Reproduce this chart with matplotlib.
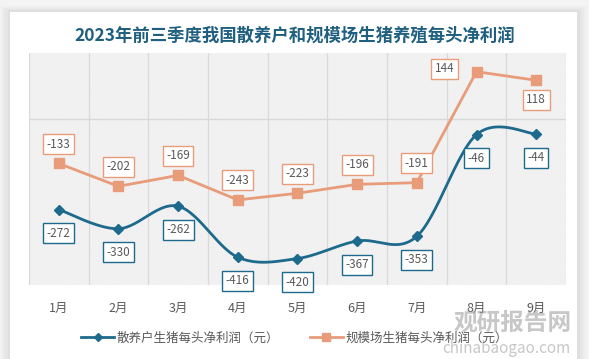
import numpy as np
import matplotlib.pyplot as plt
from matplotlib.patches import Rectangle

plt.rcParams['font.family'] = ['Noto Sans CJK SC', 'DejaVu Sans']
plt.rcParams['hatch.linewidth'] = 0.4

months = ['1月', '2月', '3月', '4月', '5月', '6月', '7月', '8月', '9月']
retail = [-272, -330, -262, -416, -420, -367, -353, -46, -44]
scale = [-133, -202, -169, -243, -223, -196, -191, 144, 118]
retail_name = '散养户生猪每头净利润（元）'
scale_name = '规模场生猪每头净利润（元）'

blue = '#1d6a8c'
orange = '#e89c7a'
grey_txt = '#595959'


def smooth(y, n=30):
    # Bezier smoothing like spreadsheet "smoothed line"
    x = np.arange(len(y), dtype=float)
    y = np.asarray(y, dtype=float)
    xs, ys = [], []
    for i in range(len(y) - 1):
        p0 = max(i - 1, 0)
        p3 = min(i + 2, len(y) - 1)
        c1x = x[i] + (x[i + 1] - x[p0]) / 6
        c1y = y[i] + (y[i + 1] - y[p0]) / 6
        c2x = x[i + 1] - (x[p3] - x[i]) / 6
        c2y = y[i + 1] - (y[p3] - y[i]) / 6
        t = np.linspace(0, 1, n)
        bx = (1-t)**3*x[i] + 3*(1-t)**2*t*c1x + 3*(1-t)*t**2*c2x + t**3*x[i+1]
        by = (1-t)**3*y[i] + 3*(1-t)**2*t*c1y + 3*(1-t)*t**2*c2y + t**3*y[i+1]
        xs.extend(bx)
        ys.extend(by)
    return np.array(xs), np.array(ys)


fig = plt.figure(figsize=(5.89, 3.59), dpi=100, facecolor='#f4f4f4')

# card with soft shadow
for k, a in enumerate([0.05, 0.05, 0.06, 0.08]):
    d = (4 - k) * 0.004
    fig.patches.append(Rectangle((0.017 - d, 0.0), 0.963 + 2 * d, 0.967 + d,
                                 transform=fig.transFigure, facecolor='#999999',
                                 alpha=a, edgecolor='none', zorder=-2))
fig.patches.append(Rectangle((0.017, 0.0), 0.963, 0.967, transform=fig.transFigure,
                             facecolor='white', edgecolor='none', zorder=-1))

ax = fig.add_axes([0.049, 0.206, 0.912, 0.646])
ax.set_zorder(2)
ax.set_facecolor('white')
ax.add_patch(Rectangle((0, 0), 1, 1, transform=ax.transAxes, facecolor='white',
                       edgecolor='#e2e2e2', hatch='\\' * 20, linewidth=0, zorder=0))

x = np.arange(len(months))
ax.set_xlim(-0.5, len(months) - 0.5)
ax.set_ylim(-500, 200)

for b in np.arange(-0.5, len(months), 1.0):
    ax.axvline(b, color='#d9d9d9', lw=0.9, zorder=1)
ax.axhline(0, color='#d9d9d9', lw=1.0, zorder=1)

sx, sy = smooth(retail)
ax.plot(sx, sy, color=blue, lw=2, zorder=3)
ax.plot(x, retail, 'D', color=blue, ms=5, zorder=4)
ax.plot(x, scale, color=orange, lw=2, marker='s', ms=7, zorder=3)

for i, v in enumerate(retail):
    ax.annotate(str(v), (i, v), xytext=(0, -17), textcoords='offset points',
                ha='center', va='center', fontsize=8.5, color=grey_txt, zorder=5,
                bbox=dict(boxstyle='square,pad=0.3', fc='white', ec=blue, lw=1))
for i, v in enumerate(scale):
    if i == 7:
        off = (-23, 2)
    elif i == 8:
        off = (0, -14)
    else:
        off = (0, 14)
    ax.annotate(str(v), (i, v), xytext=off, textcoords='offset points',
                ha='center', va='center', fontsize=8.5, color=grey_txt, zorder=5,
                bbox=dict(boxstyle='square,pad=0.3', fc='white', ec=orange, lw=1))

ax.set_xticks(x)
ax.set_xticklabels(months, fontsize=9, color=grey_txt)
ax.tick_params(axis='x', length=0, pad=12)
ax.set_yticks([])
for s in ax.spines.values():
    s.set_visible(False)

fig.text(0.5, 0.9, '2023年前三季度我国散养户和规模场生猪养殖每头净利润',
         ha='center', va='center', fontsize=12.5, fontweight='bold', color='#1f5f7f')

h1, = ax.plot([], [], color=blue, lw=2, marker='D', ms=4)
h2, = ax.plot([], [], color=orange, lw=2, marker='s', ms=6)
fig.legend([h1, h2], [retail_name, scale_name], loc='center', bbox_to_anchor=(0.5, 0.058),
           ncol=2, frameon=False, fontsize=9, handlelength=2.6, columnspacing=2.5,
           labelcolor=grey_txt, handletextpad=0.2)

# watermark
fig.text(0.87, 0.1, '观研报告网', ha='center', va='center', fontsize=17,
         fontweight='bold', color='#9a9a9a', alpha=0.55, zorder=3)
fig.text(0.86, 0.03, 'chinabaogao.com', ha='center', va='center', fontsize=11,
         color='#9a9a9a', alpha=0.55, zorder=3)

fig.savefig('out.png', dpi=100, facecolor=fig.get_facecolor())
